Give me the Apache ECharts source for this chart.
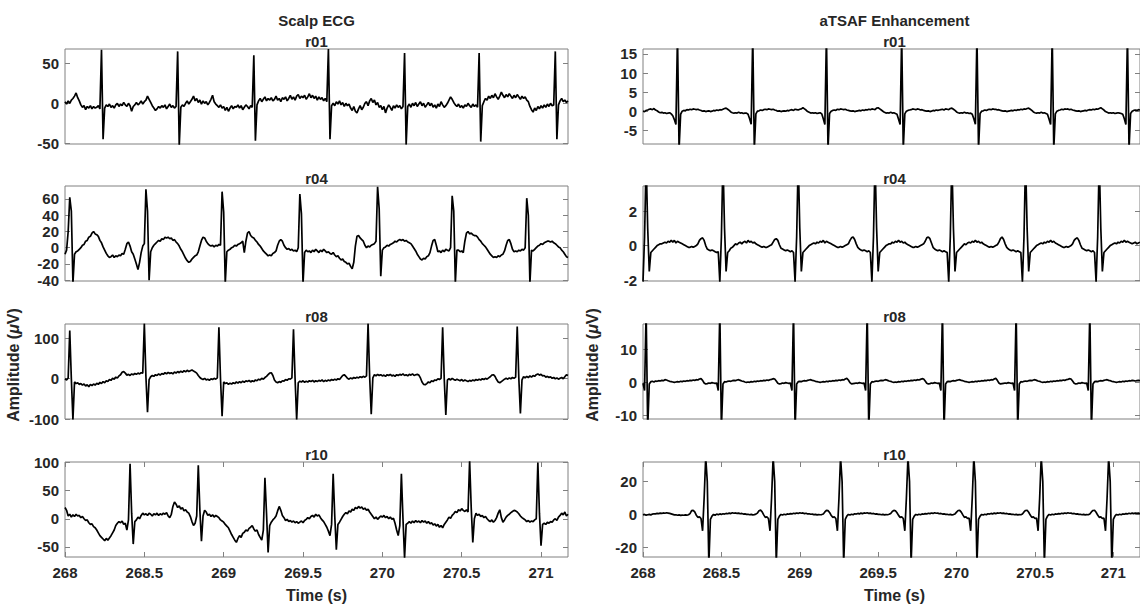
<!DOCTYPE html>
<html>
<head>
<meta charset="utf-8">
<script src="https://cdn.jsdelivr.net/npm/echarts@6/dist/echarts.min.js"></script>
<style>
html,body{margin:0;padding:0;background:#fff;}
#chart{width:1140px;height:607px;}
</style>
</head>
<body>
<div id="chart"></div>
<script>
// ---- data ----
const T0 = 268, DT = 0.01;           // sample start (s) and step (s)
const X_MIN = 268, X_MAX = 271.17;
const xTicks = [268, 268.5, 269, 269.5, 270, 270.5, 271];

const columnTitles = ['Scalp ECG', 'aTSAF Enhancement'];
const recordNames = ['r01', 'r04', 'r08', 'r10'];
const xName = 'Time (s)';

const scalpR01 = [
2,-1,3,0,4,6,9,13,7,3,
-2,-5,-3,-8,-4,-6,-3,-7,-4,-6,
-5,-3,-7,67,-45,-6,-2,-4,-1,-5,
-3,-6,-2,0,-4,-1,-3,1,-2,-4,
0,-3,-10,-4,-2,1,-2,0,3,-1,
2,4,9,5,1,-3,-6,-9,-7,-4,
-6,-3,-5,-2,-7,-4,-1,-5,-3,-6,
-4,65,-53,-5,-2,-4,0,3,-1,2,
5,9,3,6,1,4,-1,3,0,2,
-2,1,5,10,2,-1,-3,-5,-2,-6,
-4,-9,-5,-10,-6,-3,-7,-4,-5,-2,
-6,-3,-8,-5,-2,-4,-7,-3,-5,60,
-47,-2,3,6,2,5,8,3,6,4,
7,3,5,9,4,6,2,7,5,8,
3,6,10,5,8,4,9,11,6,9,
7,10,5,8,12,7,10,6,9,4,
8,5,7,3,6,2,68,-45,-3,0,
-3,2,-1,3,-2,1,-4,0,-3,-1,
-6,-9,-4,-10,-12,-7,-3,-8,-5,0,
2,-3,3,6,1,4,-2,1,-5,-3,
-8,-4,-12,-6,-2,-5,-9,-3,-6,-2,
-5,-3,-7,-4,63,-52,-4,-1,-5,0,
-3,1,-4,-1,2,-3,0,-5,-2,1,
-3,0,-5,-2,-6,-1,-4,2,-2,-5,
-3,0,4,8,5,1,-2,-4,-1,-5,
-3,-6,-2,-4,0,-3,-5,-1,-4,-2,
-5,63,-48,-3,2,6,4,9,6,10,
7,12,8,5,9,14,10,7,11,8,
12,9,6,10,7,11,8,5,9,6,
8,4,2,-4,-8,-11,-6,-9,-4,-7,
-3,-6,-2,-5,-1,-4,0,-3,-2,65,
-45,-2,3,6,2,4,1,3
];

const tsafR01 = [
0,-0.1,0.2,0.3,0.5,0.6,0.4,0.7,0.3,0.1,
-0.2,-0.4,-0.3,-0.5,-0.4,-0.6,-0.5,-0.4,-0.7,-1.2,
-2.2,-3.5,20,-10,-0.8,0,0.2,0.1,0.4,0.3,
0.5,0.4,0.6,0.5,0.4,0.5,0.3,0.2,0,0.1,
-0.1,0,0.1,-0.1,0,0.2,0.1,0.3,0.2,0.4,
0.3,0.5,0.7,0.8,0.5,0.2,-0.2,-0.4,-0.5,-0.4,
-0.5,-0.3,-0.5,-0.4,-0.6,-0.5,-0.5,-0.8,-2.0,-3.4,
20,-10,-0.7,0,0.1,0.3,0.2,0.4,0.5,0.4,
0.6,0.5,0.4,0.5,0.3,0.2,0,0.1,-0.1,0,
0.1,0,0.2,0.1,0.3,0.4,0.2,0.5,0.4,0.3,
0.5,0.6,0.9,0.6,0.3,-0.1,-0.3,-0.5,-0.4,-0.5,
-0.4,-0.6,-0.5,-0.4,-0.7,-2.0,-3.5,20,-10,-0.6,
0,0.2,0.3,0.2,0.5,0.4,0.6,0.5,0.4,0.5,
0.3,0.2,0.1,0,0.1,-0.1,0,0.1,0.2,0.1,
0.3,0.2,0.4,0.3,0.5,0.4,0.6,0.5,0.4,0.8,
0.9,0.6,0.3,0,-0.3,-0.5,-0.4,-0.5,-0.3,-0.5,
-0.4,-0.6,-0.8,-2.1,-3.5,20,-10,-0.7,0,0.2,
0.3,0.4,0.6,0.5,0.4,0.6,0.5,0.3,0.4,0.2,
0.1,0,0.1,-0.1,0,0.2,0.1,0.3,0.2,0.3,
0.4,0.5,0.3,0.6,0.5,0.4,0.7,0.8,0.5,0.2,
-0.2,-0.4,-0.5,-0.4,-0.5,-0.3,-0.5,-0.4,-0.6,-0.5,
-0.8,-2.0,-3.4,20,-10,-0.6,0,0.1,0.3,0.2,
0.4,0.5,0.4,0.6,0.5,0.5,0.3,0.4,0.2,0.1,
0,0.1,-0.1,0,0.1,0.2,0.1,0.3,0.2,0.4,
0.3,0.5,0.4,0.6,0.5,0.7,0.8,0.5,0.2,-0.2,
-0.4,-0.5,-0.4,-0.5,-0.3,-0.5,-0.4,-0.6,-0.8,-2.1,
-3.5,20,-10,-0.7,0,0.2,0.3,0.5,0.4,0.6,
0.5,0.6,0.4,0.5,0.3,0.2,0.1,0,0.1,-0.1,
0,0.1,0.2,0.1,0.3,0.4,0.3,0.5,0.4,0.6,
0.5,0.7,0.9,0.6,0.3,-0.1,-0.3,-0.5,-0.4,-0.5,
-0.4,-0.6,-0.5,-0.4,-0.5,-0.6,-0.8,-2.0,-3.5,20,
-10,-0.6,0,0.2,0.3,0.2,0.4,0.3
];

const scalpR04 = [
-8,-3,20,62,45,-44,-8,-5,-4,-2,
0,3,4,8,9,13,14,18,20,17,
16,14,9,6,1,-3,-7,-10,-12,-11,
-9,-12,-10,-11,-9,-10,-7,-8,-2,5,
7,2,-5,-8,-14,-20,-27,-18,-6,2,
5,72,45,-40,-5,0,3,5,7,9,
8,11,10,13,12,13,11,12,9,10,
7,5,2,-2,-5,-9,-13,-16,-18,-17,
-14,-12,-10,-9,-5,2,9,13,12,8,
5,3,2,3,1,3,2,4,3,69,
44,-44,-5,-3,-2,0,1,3,2,4,
5,6,8,-6,8,18,20,15,13,12,
9,7,4,2,-1,-4,-6,-8,-10,-9,
-10,-7,-6,-4,3,8,10,8,3,0,
-2,-1,-3,-2,-4,-3,-5,0,66,42,
-44,-6,-3,-5,-4,-6,-3,-5,-2,-4,
-6,-3,-5,-2,-4,-6,-5,-7,-8,-6,
-9,-11,-10,-13,-15,-14,-17,-18,-20,-19,
-23,-26,-18,2,14,15,12,10,8,3,
0,2,1,3,4,5,8,75,48,-35,
-3,0,1,3,2,4,5,6,8,7,
9,10,9,10,8,9,7,6,5,2,
-1,-4,-8,-11,-14,-15,-13,-14,-11,-10,
-6,2,9,10,3,-5,-4,-6,-3,-5,
-2,-3,-4,0,64,45,-44,-3,-3,-5,
-4,-6,8,18,20,17,18,16,15,15,
13,10,8,5,3,1,-2,-5,-8,-10,
-12,-11,-12,-10,-11,-9,-8,-4,3,9,
10,5,-2,-5,-4,-5,-3,-4,-2,-3,
0,61,40,-44,-3,-4,-2,0,2,3,
5,4,6,7,8,8,7,8,6,5,
3,1,0,-3,-5,-8,-11,-12
];

const tsafR04 = [
-2.1,0.5,5,1,-1.5,-0.4,-0.3,-0.2,-0.1,0,
0.05,0.1,0.1,0.15,0.2,0.15,0.25,0.2,0.3,0.2,
0.3,0.15,0.25,0.2,0.15,0.1,0.05,0,-0.05,-0.1,
-0.1,-0.05,-0.1,-0.05,0,0.1,0.3,0.4,0.45,0.3,
0,-0.2,-0.25,-0.3,-0.25,-0.3,-0.35,-0.4,-0.35,-2.1,
0.5,5,1,-1.5,-0.4,-0.3,-0.15,-0.1,0,0.1,
0.05,0.15,0.2,0.1,0.2,0.25,0.15,0.3,0.2,0.25,
0.15,0.2,0.1,0.05,0,-0.05,-0.1,-0.05,-0.1,-0.1,
-0.05,0,0.05,0.2,0.35,0.4,0.3,0.05,-0.15,-0.2,
-0.25,-0.3,-0.25,-0.3,-0.35,-0.3,-0.4,-2.1,0.5,5,
1,-1.5,-0.4,-0.3,-0.2,-0.1,0,0.05,0.1,0.15,
0.1,0.2,0.15,0.25,0.2,0.3,0.15,0.25,0.2,0.15,
0.1,0.05,0,-0.05,-0.1,-0.1,-0.05,-0.1,-0.05,0,
0.05,0.1,0.3,0.45,0.5,0.35,0.1,-0.1,-0.2,-0.25,
-0.3,-0.25,-0.3,-0.35,-0.3,-0.4,-2.1,0.5,5,1,
-1.5,-0.4,-0.3,-0.2,-0.1,0,0.05,0.1,0.1,0.2,
0.15,0.25,0.2,0.3,0.2,0.25,0.15,0.2,0.1,0.05,
0,-0.05,-0.1,-0.1,-0.05,-0.1,-0.05,0,0.05,0.1,
0.25,0.45,0.5,0.4,0.15,-0.1,-0.2,-0.25,-0.3,-0.25,
-0.3,-0.35,-0.3,-0.35,-0.4,-2.1,0.5,5,1,-1.5,
-0.4,-0.3,-0.2,-0.1,0,0.1,0.05,0.15,0.2,0.15,
0.25,0.2,0.3,0.2,0.25,0.15,0.2,0.1,0.05,0,
-0.05,-0.1,-0.05,-0.1,-0.05,0,0.05,0.2,0.4,0.5,
0.35,0.1,-0.1,-0.2,-0.25,-0.3,-0.25,-0.3,-0.35,-0.3,
-0.35,-0.4,-2.1,0.5,5,1,-1.5,-0.4,-0.3,-0.2,
-0.1,0,0.05,0.1,0.15,0.1,0.2,0.15,0.25,0.2,
0.3,0.2,0.25,0.15,0.1,0.05,0,-0.05,-0.1,-0.1,
-0.05,-0.1,-0.05,0,0.1,0.3,0.4,0.45,0.3,0.05,
-0.15,-0.2,-0.25,-0.3,-0.25,-0.3,-0.35,-0.3,-0.4,-2.1,
0.5,5,1,-1.5,-0.4,-0.3,-0.2,-0.1,0,0.05,
0.1,0.15,0.1,0.2,0.15,0.25,0.2,0.3,0.2,0.25,
0.2,0.15,0.1,0.15,0.2,0.1,0.15,0.2
];

const scalpR08 = [
0,-3,2,120,0,-102,-8,-12,-10,-14,
-12,-16,-13,-18,-15,-20,-14,-17,-13,-16,
-11,-14,-9,-12,-7,-10,-5,-7,-2,-4,
1,-1,4,2,7,10,16,18,14,9,
11,8,12,10,13,11,14,12,15,14,
137,5,-83,-2,5,8,6,10,8,12,
9,13,11,15,12,16,13,15,12,17,
14,18,15,19,16,20,17,21,18,20,
22,19,17,14,8,3,0,-2,1,-3,
-1,-4,0,-2,1,-1,2,128,0,-93,
-8,-12,-10,-14,-11,-13,-10,-12,-8,-11,
-7,-10,-6,-9,-5,-7,-4,-8,-5,-7,
-3,-5,-1,-3,1,-1,3,6,10,14,
15,8,-3,-8,-10,-7,-9,-5,-6,-2,
-4,0,-1,2,123,0,-102,-10,-6,-8,
-5,-9,-6,-8,-5,-7,-4,-8,-5,-7,
-4,-6,-3,-7,-4,-6,-3,-5,-2,-4,
-1,-3,0,-2,3,8,10,6,1,-1,
2,0,3,1,4,2,5,3,6,4,
7,137,5,-88,2,10,7,11,8,10,
7,9,6,10,8,11,7,9,6,10,
8,11,9,12,8,10,7,11,9,12,
8,10,11,9,2,-8,-14,-15,-12,-8,
-10,-5,-7,-3,-4,0,-2,1,128,0,
-90,-3,0,-3,1,-2,-4,-1,-3,-5,
-2,-6,-3,-5,-7,-4,-6,-3,-5,-2,
-4,-1,-3,0,-2,1,-1,2,5,9,
10,6,-2,-8,-10,-7,-4,-1,1,-1,
2,0,3,1,4,130,2,-86,-3,5,
2,6,3,7,4,8,6,10,12,9,
11,7,8,4,6,3,5,1,3,0,
2,-1,1,3,0,5,10,8
];

const tsafR08 = [
-0.3,-2.5,22,-14,-0.5,0.2,0.3,0.1,0.4,0.3,
0.5,0.4,0.6,0.5,0.8,0.7,0.5,0.3,0.2,0.1,
0,0.1,0.2,0.1,0.3,0.2,0.4,0.3,0.5,0.4,
0.6,0.5,0.7,0.6,0.8,0.7,1.0,1.1,0.6,-0.2,
-0.5,-0.4,-0.2,-0.3,-0.1,-0.2,-0.3,-0.2,-2.5,22,
-14,-0.5,0.2,0.1,0.3,0.4,0.3,0.5,0.6,0.5,
0.7,0.8,0.6,0.4,0.3,0.1,0,0.1,0,0.2,
0.1,0.3,0.2,0.4,0.3,0.5,0.4,0.6,0.5,0.7,
0.6,0.8,0.9,1.1,1.0,0.4,-0.3,-0.5,-0.4,-0.2,
-0.3,-0.1,-0.2,-0.3,-0.2,-2.5,22,-14,-0.5,0.2,
0.3,0.2,0.4,0.5,0.4,0.6,0.7,0.8,0.6,0.5,
0.3,0.2,0.1,0,0.1,0.2,0.1,0.3,0.2,0.4,
0.3,0.5,0.4,0.6,0.5,0.7,0.6,0.8,0.7,1.0,
1.2,0.7,-0.1,-0.5,-0.4,-0.3,-0.2,-0.3,-0.1,-0.2,
-0.3,-0.2,-2.5,22,-14,-0.5,0.2,0.1,0.3,0.4,
0.3,0.5,0.6,0.5,0.7,0.8,0.6,0.4,0.3,0.1,
0,0.1,0,0.2,0.1,0.3,0.2,0.4,0.3,0.5,
0.4,0.6,0.5,0.7,0.6,0.8,0.7,0.9,1.1,1.0,
0.4,-0.3,-0.5,-0.4,-0.2,-0.3,-0.1,-0.2,-0.3,-0.2,
-2.5,22,-14,-0.5,0.2,0.3,0.2,0.4,0.5,0.4,
0.6,0.7,0.8,0.6,0.5,0.3,0.2,0.1,0,0.1,
0.2,0.1,0.3,0.2,0.4,0.3,0.5,0.4,0.6,0.5,
0.7,0.6,0.8,0.7,1.0,1.2,0.6,-0.2,-0.5,-0.4,
-0.3,-0.2,-0.3,-0.1,-0.2,-0.3,-0.2,-2.5,22,-14,
-0.5,0.2,0.1,0.3,0.4,0.3,0.5,0.6,0.5,0.7,
0.8,0.6,0.4,0.3,0.1,0,0.1,0,0.2,0.1,
0.3,0.2,0.4,0.3,0.5,0.4,0.6,0.5,0.7,0.6,
0.8,0.9,1.1,1.0,0.4,-0.3,-0.5,-0.4,-0.2,-0.3,
-0.1,-0.2,-0.3,-0.2,-2.5,22,-14,-0.5,0.2,0.3,
0.2,0.4,0.5,0.4,0.6,0.7,0.8,0.6,0.5,0.3,
0.2,0.1,0,0.1,0.2,0.1,0.3,0.2,0.4,0.3,
0.5,0.4,0.6,0.5,0.4,0.5,0.6,0.5
];

const scalpR10 = [
20,15,5,8,3,7,4,8,5,6,
2,4,0,-3,-2,-7,-10,-9,-14,-16,
-20,-25,-30,-33,-36,-39,-35,-38,-34,-30,
-25,-20,-12,-8,-5,-7,-4,-10,-8,-20,
-2,98,10,-45,-5,-2,3,0,6,10,
7,9,6,10,8,5,9,7,10,6,
9,7,10,8,11,5,2,8,22,30,
26,20,23,17,20,14,16,12,10,4,
-5,-12,-8,5,95,15,-40,5,15,12,
6,8,4,7,3,6,4,2,-2,-4,
-6,-10,-13,-16,-22,-28,-33,-38,-42,-35,
-30,-33,-26,-24,-20,-22,-17,-15,-12,-18,
-22,-20,-28,-33,-38,-20,73,10,-60,-12,
-6,-2,1,5,14,22,15,6,2,-3,
-1,-5,-3,-6,-4,-7,-5,-8,-6,-4,
-7,-3,-1,2,0,4,6,3,8,5,
7,2,-2,-5,-10,-15,-22,-30,-10,80,
5,-55,-10,-6,-1,4,8,11,9,14,
12,17,15,20,18,22,19,21,17,19,
15,17,12,8,4,0,3,-1,2,5,
3,6,2,4,0,3,-1,1,-8,-20,
-30,-12,80,0,-70,-10,-8,-5,-8,-4,
-7,-3,-6,-4,-7,-3,-6,-4,-8,-5,
-9,-7,-11,-9,-13,-10,-15,-12,-16,-10,
-6,-2,3,1,6,9,13,11,16,14,
18,15,13,16,12,104,20,-42,0,10,
6,8,4,6,2,4,0,-3,-5,-2,
-6,-3,2,10,16,2,-6,-2,3,6,
8,11,13,15,14,12,9,5,2,0,
-2,-5,-3,-6,-4,-5,-2,0,100,10,
-48,-10,-8,-10,-6,-8,-5,-6,-2,0,
-3,3,6,10,7,12,5,8
];

const tsafR10 = [
-0.3,0,-0.5,-0.2,0,-0.3,0.2,0.4,0.3,0.6,
0.5,0.8,0.6,0.9,0.7,1.0,0.8,0.6,0.3,0,
-0.3,-0.2,-0.5,-0.3,-0.6,-0.4,-0.5,-0.3,-0.4,-0.2,
0.5,2.3,2.5,1.5,-0.5,-1.8,-1.5,-2.5,-10,10,
35,20,-30,-3,-1,0,-0.5,0.2,-0.2,0.3,
0,0.4,0.2,0.6,0.4,0.8,0.5,1.0,0.7,0.9,
0.6,0.8,0.4,0.6,0.2,0.3,0,0.1,-0.2,0,
-0.3,-0.1,0.2,0.8,2.2,2.6,1.6,-0.3,-1.8,-1.5,
-2.5,-10,10,35,20,-30,-3,-1,0,-0.4,
0.1,-0.2,0.3,0.1,0.5,0.3,0.7,0.5,0.9,0.6,
1.0,0.7,0.9,0.5,0.7,0.3,0.4,0.1,0.2,-0.1,
0,-0.3,-0.1,-0.2,-0.1,0.3,1.5,2.5,2.3,1.2,
-0.5,-1.8,-1.5,-2.5,-10,10,35,20,-30,-3,
-1,0,-0.4,0.1,-0.2,0.4,0.2,0.6,0.3,0.8,
0.5,0.9,0.7,1.0,0.6,0.8,0.4,0.6,0.2,0.3,
0,0.1,-0.2,0,-0.3,-0.1,-0.2,0.1,0.6,1.8,
2.5,2.2,1.0,-0.6,-1.8,-1.5,-2.5,-10,10,35,
20,-30,-3,-1,0,-0.4,0.1,-0.2,0.3,0.1,
0.5,0.3,0.7,0.5,0.9,0.6,1.0,0.7,0.8,0.4,
0.6,0.2,0.3,0,0.1,-0.2,0,-0.3,-0.1,0.3,
1.4,2.4,2.5,1.4,-0.3,-1.8,-1.5,-2.5,-2.2,-10,
10,35,20,-30,-3,-1,0,-0.4,0.1,-0.2,
0.4,0.2,0.6,0.3,0.8,0.5,0.9,0.7,1.0,0.6,
0.8,0.4,0.6,0.2,0.3,0,0.1,-0.2,0,-0.3,
-0.1,-0.2,0.3,1.5,2.4,2.5,1.3,-0.4,-1.8,-1.5,
-2.5,-2.2,-10,10,35,20,-30,-3,-1,0,
-0.4,0.1,-0.2,0.3,0.1,0.5,0.3,0.7,0.5,0.9,
0.6,1.0,0.7,0.8,0.4,0.6,0.2,0.3,0,0.1,
-0.2,0,-0.3,-0.1,-0.2,0.3,1.5,2.4,2.5,1.3,
-0.4,-1.8,-1.5,-2.5,-2.2,-10,10,35,20,-30,
-3,-1,0,-0.4,0.1,-0.2,0.3,0.1,0.5,0.3,
0.7,0.4,0.8,0.5,0.9,0.6,0.8,0.5
];

// y-axis limits and tick labels for each panel
const yLimScalp = [[-51, 68], [-41, 76], [-100, 136], [-68, 101]];
const yLimTsaf  = [[-8.6, 16.3], [-2.05, 3.45], [-11.2, 17.8], [-26, 32]];
const yTicksScalp = [[-50, 0, 50], [-40, -20, 0, 20, 40, 60], [-100, 0, 100], [-50, 0, 50, 100]];
const yTicksTsaf  = [[-5, 0, 5, 10, 15], [-2, 0, 2], [-10, 0, 10], [-20, 0, 20]];

const scalpSeries = [scalpR01, scalpR04, scalpR08, scalpR10];
const tsafSeries = [tsafR01, tsafR04, tsafR08, tsafR10];

// ---- layout ----
const FONT = "'Liberation Sans', Arial, Helvetica, sans-serif";
const TXT = '#262626';
const FRAME = '#808080';
const colLeft = [65, 643];
const plotW = 503;
const rowTop = [49, 186, 324, 462];
const plotH = 95;

function toPairs(arr) {
  return arr.map((v, i) => [+(T0 + i * DT).toFixed(2), v]);
}

const panels = [];
for (let r = 0; r < 4; r++) {
  panels.push({ col: 0, row: r, data: scalpSeries[r], lim: yLimScalp[r], ticks: yTicksScalp[r] });
  panels.push({ col: 1, row: r, data: tsafSeries[r], lim: yLimTsaf[r], ticks: yTicksTsaf[r] });
}

const grid = [], xAxis = [], yAxis = [], series = [], graphic = [];
panels.forEach((p, k) => {
  const bottom = p.row === 3;
  grid.push({ left: colLeft[p.col], top: rowTop[p.row], width: plotW, height: plotH,
    show: true, borderColor: FRAME, borderWidth: 1, backgroundColor: 'transparent' });
  const xi = xAxis.length;
  xAxis.push({ gridIndex: k, type: 'value', min: X_MIN, max: X_MAX, position: 'bottom',
    axisLine: { show: false, onZero: false }, splitLine: { show: false },
    axisTick: { show: bottom, inside: true, length: 5, customValues: xTicks, lineStyle: { color: FRAME } },
    axisLabel: { show: bottom, customValues: xTicks, margin: 8, color: TXT, fontSize: 15, fontWeight: 'bold', fontFamily: FONT } });
  xAxis.push({ gridIndex: k, type: 'value', min: X_MIN, max: X_MAX, position: 'top',
    axisLine: { show: false, onZero: false }, splitLine: { show: false },
    axisTick: { show: bottom, inside: true, length: 5, customValues: xTicks, lineStyle: { color: FRAME } },
    axisLabel: { show: false } });
  const yi = yAxis.length;
  yAxis.push({ gridIndex: k, type: 'value', min: p.lim[0], max: p.lim[1], position: 'left',
    axisLine: { show: false, onZero: false }, splitLine: { show: false },
    axisTick: { show: true, inside: true, length: 5, customValues: p.ticks, lineStyle: { color: FRAME } },
    axisLabel: { customValues: p.ticks, margin: 6, color: TXT, fontSize: 15, fontWeight: 'bold', fontFamily: FONT } });
  yAxis.push({ gridIndex: k, type: 'value', min: p.lim[0], max: p.lim[1], position: 'right',
    axisLine: { show: false, onZero: false }, splitLine: { show: false },
    axisTick: { show: true, inside: true, length: 5, customValues: p.ticks, lineStyle: { color: FRAME } },
    axisLabel: { show: false } });
  series.push({ type: 'line', xAxisIndex: xi, yAxisIndex: yi, data: toPairs(p.data),
    showSymbol: false, symbol: 'none', clip: true, silent: true,
    lineStyle: { color: '#000', width: 1.7 }, animation: false });
  // panel title
  graphic.push({ type: 'text', x: colLeft[p.col] + plotW / 2, y: rowTop[p.row] - 8,
    style: { text: recordNames[p.row], fill: TXT, font: `bold 15px ${FONT}`, textAlign: 'center', textVerticalAlign: 'middle' } });
  if (bottom) {
    graphic.push({ type: 'text', x: colLeft[p.col] + plotW / 2, y: 595,
      style: { text: xName, fill: TXT, font: `bold 16px ${FONT}`, textAlign: 'center', textVerticalAlign: 'middle' } });
  }
});

// column titles
[0, 1].forEach(c => {
  graphic.push({ type: 'text', x: colLeft[c] + plotW / 2, y: 20,
    style: { text: columnTitles[c], fill: TXT, font: `bold 15px ${FONT}`, textAlign: 'center', textVerticalAlign: 'middle' } });
});
// y labels
[13, 592].forEach(cx => {
  graphic.push({ type: 'text', x: cx, y: 365, rotation: Math.PI / 2,
    style: { text: '{a|Amplitude (}{m|μ}{a|V)}', textAlign: 'center', textVerticalAlign: 'middle',
      rich: { a: { fontSize: 16, fontWeight: 'bold', fontFamily: FONT, fill: TXT, color: TXT },
              m: { fontSize: 16, fontWeight: 'bold', fontStyle: 'italic', fontFamily: FONT, fill: TXT, color: TXT } } } });
});

const chart = echarts.init(document.getElementById('chart'), null, { renderer: 'svg' });
chart.setOption({ animation: false, backgroundColor: '#fff', grid, xAxis, yAxis, series, graphic });
</script>
</body>
</html>
